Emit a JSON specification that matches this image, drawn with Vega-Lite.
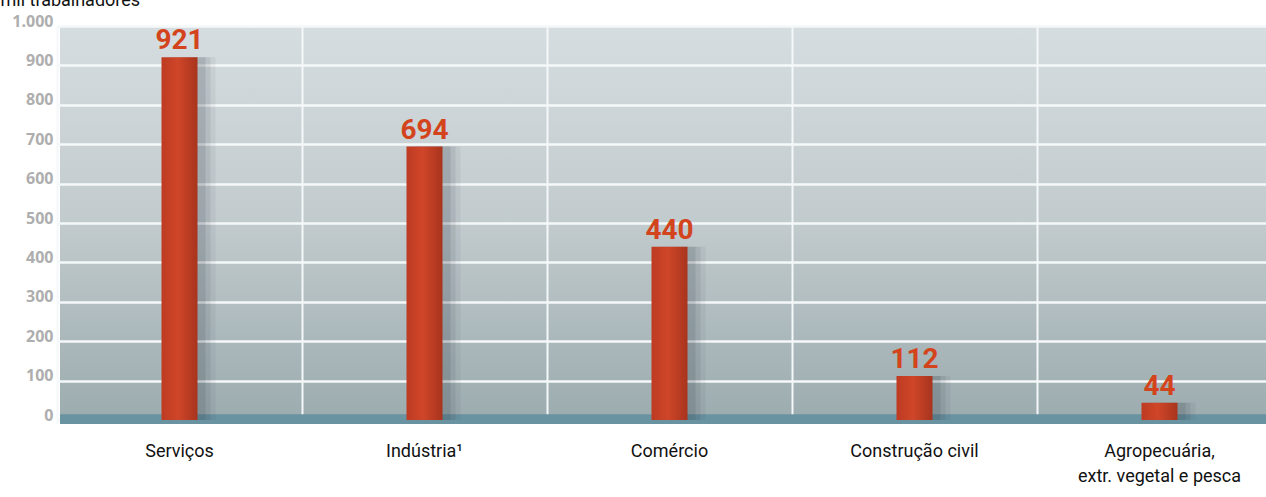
{
  "$schema": "https://vega.github.io/schema/vega-lite/v6.json",
  "autosize": "none",
  "width": 1206,
  "height": 398,
  "padding": {"left": 60, "top": 26, "right": 0, "bottom": 73},
  "background": "white",
  "config": {
    "view": {
      "stroke": null,
      "fill": {"gradient": "linear", "x1": 0, "y1": 0, "x2": 0, "y2": 1,
        "stops": [
          {"offset": 0, "color": "#d6dde0"},
          {"offset": 0.5, "color": "#c1cacd"},
          {"offset": 1, "color": "#9babae"}
        ]}
    }
  },
  "data": {
    "values": [
      {"setor": "Serviços", "valor": 921},
      {"setor": "Indústria¹", "valor": 694},
      {"setor": "Comércio", "valor": 440},
      {"setor": "Construção civil", "valor": 112},
      {"setor": "Agropecuária, extr. vegetal e pesca", "valor": 44}
    ]
  },
  "encoding": {
    "x": {
      "field": "setor",
      "type": "nominal",
      "sort": null,
      "scale": {"range": [-3, 1222], "paddingInner": 0, "paddingOuter": 0},
      "axis": {
        "title": null,
        "bandPosition": 0,
        "grid": true,
        "gridColor": "#f4f8f9",
        "gridWidth": 2,
        "ticks": false,
        "domain": false,
        "labelAngle": 0,
        "labelPadding": 18,
        "labelBaseline": "top",
        "labelFontSize": 18,
        "labelColor": "#111111",
        "labelFont": "Roboto",
        "labelLineHeight": 25,
        "labelExpr": "datum.value == 'Agropecuária, extr. vegetal e pesca' ? ['Agropecuária,', 'extr. vegetal e pesca'] : datum.value"
      }
    },
    "y": {
      "type": "quantitative",
      "scale": {"domain": [-10, 1000], "nice": false, "zero": false},
      "axis": {
        "title": "mil trabalhadores",
        "titleAngle": 0,
        "titleX": -60,
        "titleY": -21,
        "titleAlign": "left",
        "titleBaseline": "alphabetic",
        "titleFontSize": 18,
        "titleFontWeight": "normal",
        "titleColor": "#111111",
        "titleFont": "Roboto",
        "values": [0, 100, 200, 300, 400, 500, 600, 700, 800, 900, 1000],
        "grid": true,
        "gridColor": "#f4f8f9",
        "gridWidth": 2.5,
        "ticks": false,
        "domain": false,
        "labelPadding": 7,
        "labelOffset": -5,
        "labelFontSize": 16,
        "labelFontWeight": "bold",
        "labelColor": "#aeaeae",
        "labelFont": "Open Sans",
        "labelExpr": "datum.value == 1000 ? '1.000' : datum.value"
      }
    }
  },
  "layer": [
    {
      "data": {"values": [{}]},
      "mark": {"type": "rect", "color": "#6a93a1"},
      "encoding": {
        "x": null,
        "y": {"datum": -10, "type": "quantitative"},
        "y2": {"datum": 15}
      }
    },
    {
      "mark": {"type": "bar", "width": 40, "xOffset": 6, "color": "#2c3a40", "opacity": 0.12},
      "encoding": {"y": {"field": "valor", "type": "quantitative"}, "y2": {"datum": 0}}
    },
    {
      "mark": {"type": "bar", "width": 40, "xOffset": 11, "color": "#2c3a40", "opacity": 0.09},
      "encoding": {"y": {"field": "valor", "type": "quantitative"}, "y2": {"datum": 0}}
    },
    {
      "mark": {"type": "bar", "width": 40, "xOffset": 16, "color": "#2c3a40", "opacity": 0.06},
      "encoding": {"y": {"field": "valor", "type": "quantitative"}, "y2": {"datum": 0}}
    },
    {
      "mark": {
        "type": "bar",
        "width": 36,
        "color": {"gradient": "linear", "x1": 0, "y1": 0, "x2": 1, "y2": 0,
          "stops": [
            {"offset": 0, "color": "#bd3b22"},
            {"offset": 0.45, "color": "#cf4629"},
            {"offset": 1, "color": "#a8341d"}
          ]}
      },
      "encoding": {"y": {"field": "valor", "type": "quantitative"}, "y2": {"datum": 0}}
    },
    {
      "mark": {
        "type": "text",
        "baseline": "alphabetic",
        "dy": -8,
        "fontSize": 28,
        "fontWeight": "bold",
        "color": "#d4441c",
        "font": "Roboto"
      },
      "encoding": {
        "y": {"field": "valor", "type": "quantitative"},
        "text": {"field": "valor", "type": "quantitative"}
      }
    }
  ]
}
